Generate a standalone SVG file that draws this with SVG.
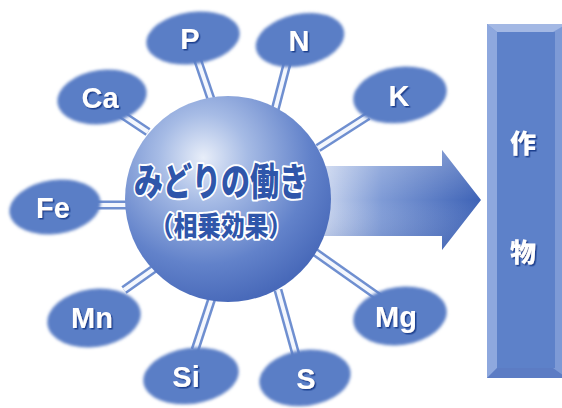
<svg xmlns="http://www.w3.org/2000/svg" width="562" height="408" viewBox="0 0 562 408">
<defs>
<radialGradient id="sph" cx="0.38" cy="0.3" r="0.72">
<stop offset="0" stop-color="#e8eef9"/>
<stop offset="0.3" stop-color="#a6bbe5"/>
<stop offset="0.72" stop-color="#6282ca"/>
<stop offset="1" stop-color="#4869b9"/>
</radialGradient>
<linearGradient id="arr" x1="0" y1="0" x2="1" y2="0">
<stop offset="0" stop-color="#e9eef9"/>
<stop offset="0.45" stop-color="#7f9bd6"/>
<stop offset="1" stop-color="#3d62b6"/>
</linearGradient>
<linearGradient id="arrv" x1="0" y1="0" x2="0" y2="1">
<stop offset="0" stop-color="#ffffff" stop-opacity="0.25"/>
<stop offset="0.5" stop-color="#ffffff" stop-opacity="0"/>
<stop offset="1" stop-color="#203f90" stop-opacity="0.2"/>
</linearGradient>
<filter id="soft" x="-20%" y="-20%" width="140%" height="140%">
<feGaussianBlur stdDeviation="1.6"/>
</filter>
<filter id="sh" x="-20%" y="-20%" width="140%" height="140%">
<feDropShadow dx="1.5" dy="1.5" stdDeviation="0" flood-color="#1f3f8f"/>
</filter>
<style>
.el{fill:#5a7ec6;filter:url(#soft)}
.lab{font-family:"Liberation Sans",Arial,sans-serif;font-weight:bold;font-size:29px;fill:#ffffff;text-anchor:middle;filter:url(#sh)}
.rod{stroke:#6f8fd0;stroke-width:9;stroke-linecap:butt}
.rodi{stroke:#f4f7fd;stroke-width:4;stroke-linecap:butt}
.jp{font-family:"Noto Sans CJK JP",sans-serif;font-weight:900;text-anchor:middle;fill:#2f56aa;stroke:#ffffff;stroke-width:4;paint-order:stroke;stroke-linejoin:round}
.kan{font-family:"Noto Sans CJK JP",sans-serif;font-weight:900;font-size:26px;fill:#ffffff;text-anchor:middle;filter:url(#sh)}
</style>
</defs>
<rect width="562" height="408" fill="#ffffff"/>

<g id="connectors">
<line class="rod" x1="197" y1="58" x2="212" y2="102"/><line class="rodi" x1="197" y1="58" x2="212" y2="102"/>
<line class="rod" x1="288" y1="60" x2="275" y2="110"/><line class="rodi" x1="288" y1="60" x2="275" y2="110"/>
<line class="rod" x1="368" y1="116" x2="318" y2="148"/><line class="rodi" x1="368" y1="116" x2="318" y2="148"/>
<line class="rod" x1="118" y1="112" x2="148" y2="132"/><line class="rodi" x1="118" y1="112" x2="148" y2="132"/>
<line class="rod" x1="96" y1="205" x2="130" y2="205"/><line class="rodi" x1="96" y1="205" x2="130" y2="205"/>
<line class="rod" x1="124" y1="290" x2="158" y2="266"/><line class="rodi" x1="124" y1="290" x2="158" y2="266"/>
<line class="rod" x1="214" y1="292" x2="195" y2="350"/><line class="rodi" x1="214" y1="292" x2="195" y2="350"/>
<line class="rod" x1="278" y1="290" x2="296" y2="355"/><line class="rodi" x1="278" y1="290" x2="296" y2="355"/>
<line class="rod" x1="312" y1="250" x2="380" y2="298"/><line class="rodi" x1="312" y1="250" x2="380" y2="298"/>
</g>

<g id="arrow">
<path d="M300,166 L442,166 L442,150 L481,200 L442,250 L442,236 L300,236 Z" fill="url(#arr)"/>
<path d="M300,166 L442,166 L442,150 L481,200 L442,250 L442,236 L300,236 Z" fill="url(#arrv)"/>
</g>

<g id="sphere">
<circle cx="228" cy="199" r="103" fill="url(#sph)"/>
<text class="jp" x="221" y="195" font-size="38" textLength="174" lengthAdjust="spacingAndGlyphs">みどりの働き</text>
<text class="jp" x="221" y="236" font-size="27" textLength="142" lengthAdjust="spacingAndGlyphs">（相乗効果）</text>
</g>

<g id="P"><ellipse class="el" cx="193" cy="38" rx="47" ry="26" transform="rotate(-8 193 38)"/><text class="lab" x="190" y="49">P</text></g>
<g id="N"><ellipse class="el" cx="300" cy="40" rx="45" ry="26" transform="rotate(-12 300 40)"/><text class="lab" x="299" y="51">N</text></g>
<g id="K"><ellipse class="el" cx="400" cy="95" rx="47" ry="28" transform="rotate(-8 400 95)"/><text class="lab" x="399" y="106">K</text></g>
<g id="Ca"><ellipse class="el" cx="102" cy="97" rx="45" ry="27" transform="rotate(-8 102 97)"/><text class="lab" x="100" y="108">Ca</text></g>
<g id="Fe"><ellipse class="el" cx="55" cy="207" rx="46" ry="27" transform="rotate(-8 55 207)"/><text class="lab" x="53" y="218">Fe</text></g>
<g id="Mn"><ellipse class="el" cx="94" cy="318" rx="47" ry="29" transform="rotate(-8 94 318)"/><text class="lab" x="92" y="328">Mn</text></g>
<g id="Si"><ellipse class="el" cx="191" cy="376" rx="48" ry="28" transform="rotate(-8 191 376)"/><text class="lab" x="186" y="387">Si</text></g>
<g id="S"><ellipse class="el" cx="305" cy="378" rx="46" ry="28" transform="rotate(-8 305 378)"/><text class="lab" x="306" y="389">S</text></g>
<g id="Mg"><ellipse class="el" cx="400" cy="316" rx="47" ry="29" transform="rotate(-8 400 316)"/><text class="lab" x="396" y="327">Mg</text></g>

<g id="crop">
<rect x="487" y="24" width="80" height="354" fill="#7d9ad6"/>
<polygon points="487,24 567,24 553,32 497,32" fill="#a3b8e4"/>
<polygon points="487,24 497,32 497,368 487,378" fill="#8ea8de"/>
<polygon points="487,378 497,368 553,368 567,378" fill="#5c7cc4"/>
<rect x="497" y="32" width="58" height="336" fill="#5d81c9"/>
<text class="kan" x="523" y="153">作</text>
<text class="kan" x="523" y="262">物</text>
</g>
</svg>
